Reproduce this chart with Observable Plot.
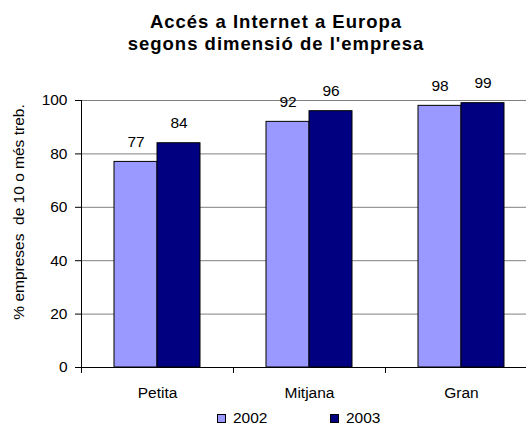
<!DOCTYPE html>
<html>
<head>
<meta charset="utf-8">
<script src="https://cdn.jsdelivr.net/npm/d3@7"></script>
<script src="https://cdn.jsdelivr.net/npm/@observablehq/plot@0.6"></script>
<style>
  html, body { margin: 0; padding: 0; background: #fff; overflow: hidden; }
  #wrap { position: relative; width: 526px; height: 425px; font-family: "Liberation Sans", Arial, sans-serif; color: #000; }
  #title { position: absolute; left: 26px; top: 10.5px; width: 500px; text-align: center; font-weight: bold; font-size: 18.5px; line-height: 22px; letter-spacing: 1px; }
  #chart { position: absolute; left: 0; top: 70px; }
  #legend { position: absolute; left: 0; top: 0; width: 526px; height: 425px; pointer-events: none; }
  .sw { position: absolute; width: 7px; height: 7px; border: 1px solid #000; }
  .lt { position: absolute; font-size: 15.5px; line-height: 18px; }
</style>
</head>
<body>
<div id="wrap">
  <div id="title"></div>
  <div id="chart"></div>
  <div id="legend"></div>
</div>
<script>
// ---- data ----
const titleLines = ["Accés a Internet a Europa", "segons dimensió de l'empresa"];
const categories = ["Petita", "Mitjana", "Gran"];
const years = ["2002", "2003"];
const values2002 = [77, 92, 98];
const values2003 = [84, 96, 99];
const yTicks = [0, 20, 40, 60, 80, 100];
const yLabel = "% empreses  de 10 o més treb.";
const colors = ["#9999FF", "#000080"];

const table = [];
categories.forEach((c, i) => {
  table.push({cat: c, year: years[0], v: values2002[i]});
  table.push({cat: c, year: years[1], v: values2003[i]});
});

document.getElementById("title").innerHTML = titleLines.join("<br>");

const chart = Plot.plot({
  width: 526,
  height: 335,
  marginLeft: 81,
  marginRight: -11,
  marginTop: 30,
  marginBottom: 38,
  style: {fontFamily: "Liberation Sans, Arial, sans-serif", fontSize: "15.5px", color: "#000", background: "transparent", overflow: "visible"},
  fx: {domain: categories, padding: 0, label: null},
  x: {domain: years, paddingInner: 0, paddingOuter: 0.76, axis: null},
  y: {domain: [0, 100], label: null},
  color: {domain: years, range: colors},
  marks: [
    Plot.ruleY(yTicks.filter(d => d > 0), {stroke: "#808080", strokeWidth: 1}),
    Plot.barY(table, {fx: "cat", x: "year", y: "v", fill: "year", stroke: "#000", strokeWidth: 1}),
    Plot.text(table, {fx: "cat", x: "year", y: "v", text: d => String(d.v), dy: -20, fill: "#000"}),
    Plot.ruleY([0], {stroke: "#000"}),
    Plot.frame({anchor: "left", insetTop: 267, insetBottom: -5, stroke: "#000"}),
    Plot.frame({anchor: "left", facet: "super", stroke: "#000"}),
    Plot.axisY({ticks: yTicks, tickSize: 6, tickPadding: 8, label: null}),
    Plot.axisFx({anchor: "bottom", tickSize: 0, tickPadding: 19, label: null}),
    Plot.text([yLabel], {fx: () => categories[0], frameAnchor: "left", textAnchor: "middle", rotate: -90, dx: -62, dy: -22, fill: "#000"})
  ]
});
document.getElementById("chart").appendChild(chart);

// legend built from years/colors
const legend = document.getElementById("legend");
const swLeft = [217, 330];
years.forEach((y, i) => {
  const s = document.createElement("div");
  s.className = "sw";
  s.style.left = swLeft[i] + "px";
  s.style.top = "414px";
  s.style.background = colors[i];
  legend.appendChild(s);
  const t = document.createElement("div");
  t.className = "lt";
  t.style.left = (swLeft[i] + 16) + "px";
  t.style.top = "409px";
  t.textContent = y;
  legend.appendChild(t);
});
</script>
</body>
</html>
